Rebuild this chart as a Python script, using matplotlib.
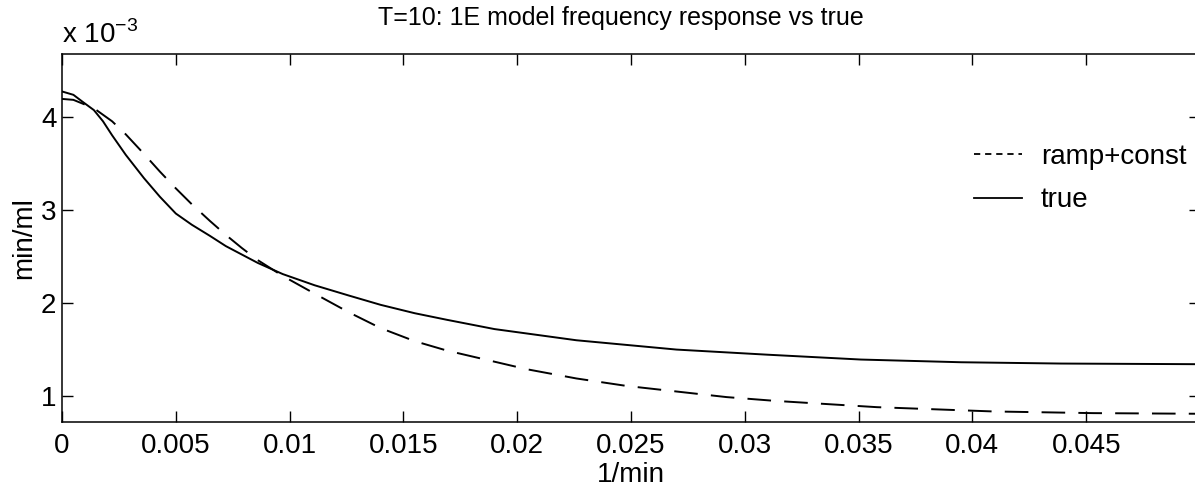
import matplotlib
matplotlib.use("Agg")
import matplotlib.pyplot as plt
from matplotlib.lines import Line2D

plt.rcParams["font.family"] = ["Liberation Sans", "DejaVu Sans"]
plt.rcParams["lines.scale_dashes"] = False

# frequency axis (1/min) and responses (x 1e-3 min/ml)
freq_true = [0.0, 0.0005, 0.0009, 0.0014, 0.0018, 0.0022, 0.0028, 0.0036,
             0.0043, 0.0050, 0.0057, 0.0065, 0.0072, 0.0079, 0.0086, 0.0097,
             0.0111, 0.0126, 0.0140, 0.0155, 0.0169, 0.0190, 0.0226, 0.0270,
             0.0310, 0.0351, 0.0395, 0.0439, 0.0500]
resp_true = [4.27, 4.234, 4.16, 4.07, 3.95, 3.80, 3.59, 3.34,
             3.14, 2.96, 2.84, 2.72, 2.61, 2.52, 2.43, 2.31,
             2.19, 2.08, 1.98, 1.89, 1.82, 1.72, 1.60, 1.50,
             1.445, 1.393, 1.364, 1.35, 1.343]

freq_ramp = [0.0, 0.0005, 0.0014, 0.0022, 0.0028, 0.0036, 0.0043, 0.0050,
             0.0057, 0.0065, 0.0072, 0.0079, 0.0086, 0.0097, 0.0111, 0.0126,
             0.0140, 0.0155, 0.0169, 0.0190, 0.0204, 0.0226, 0.0248, 0.0270,
             0.0292, 0.0313, 0.0358, 0.0409, 0.0453, 0.0500]
resp_ramp = [4.19, 4.18, 4.09, 3.95, 3.81, 3.60, 3.41, 3.23,
             3.06, 2.88, 2.73, 2.59, 2.46, 2.29, 2.10, 1.90,
             1.73, 1.59, 1.49, 1.37, 1.29, 1.19, 1.11, 1.05,
             0.99, 0.95, 0.882, 0.836, 0.818, 0.811]

x_ticks = [0, 0.005, 0.01, 0.015, 0.02, 0.025, 0.03, 0.035, 0.04, 0.045]
x_tick_labels = ["0", "0.005", "0.01", "0.015", "0.02", "0.025", "0.03", "0.035", "0.04", "0.045"]
y_ticks = [1, 2, 3, 4]

fig = plt.figure(figsize=(11.95, 4.95), dpi=100)
ax = fig.add_axes([0.0519, 0.1479, 0.9523, 0.743])

ax.plot(freq_ramp, resp_ramp, color="black", linewidth=1.4, dashes=(17, 9.5),
        label="ramp+const")
ax.plot(freq_true, resp_true, color="black", linewidth=1.4, label="true")

ax.set_xlim(0, 0.05)
ax.set_ylim(0.725, 4.672)
ax.set_xticks(x_ticks)
ax.set_xticklabels(x_tick_labels)
ax.set_yticks(y_ticks)
ax.tick_params(direction="in", length=8, width=1, labelsize=20,
               top=True, right=True)
ax.tick_params(axis="x", pad=8)
ax.tick_params(axis="y", pad=4)
for sp in ax.spines.values():
    sp.set_linewidth(1.1)

ax.set_xlabel("1/min", fontsize=20, labelpad=2)
ax.set_ylabel("min/ml", fontsize=20, labelpad=3)
ax.set_title("T=10: 1E model frequency response vs true", fontsize=18,
             pad=21, x=0.491)
ax.text(0.0, 1.03, "x 10$^{\\mathregular{-3}}$", transform=ax.transAxes,
        fontsize=20, ha="left", va="baseline")

handles = [Line2D([], [], color="black", linewidth=1.3, dashes=(4.5, 3.5)),
           Line2D([], [], color="black", linewidth=1.3)]
ax.legend(handles, ["ramp+const", "true"], frameon=False, fontsize=20,
          loc="upper left", bbox_to_anchor=(0.792, 0.785), handlelength=1.7,
          handletextpad=0.7, labelspacing=0.62, borderaxespad=0)

fig.savefig("out.png", dpi=100)
